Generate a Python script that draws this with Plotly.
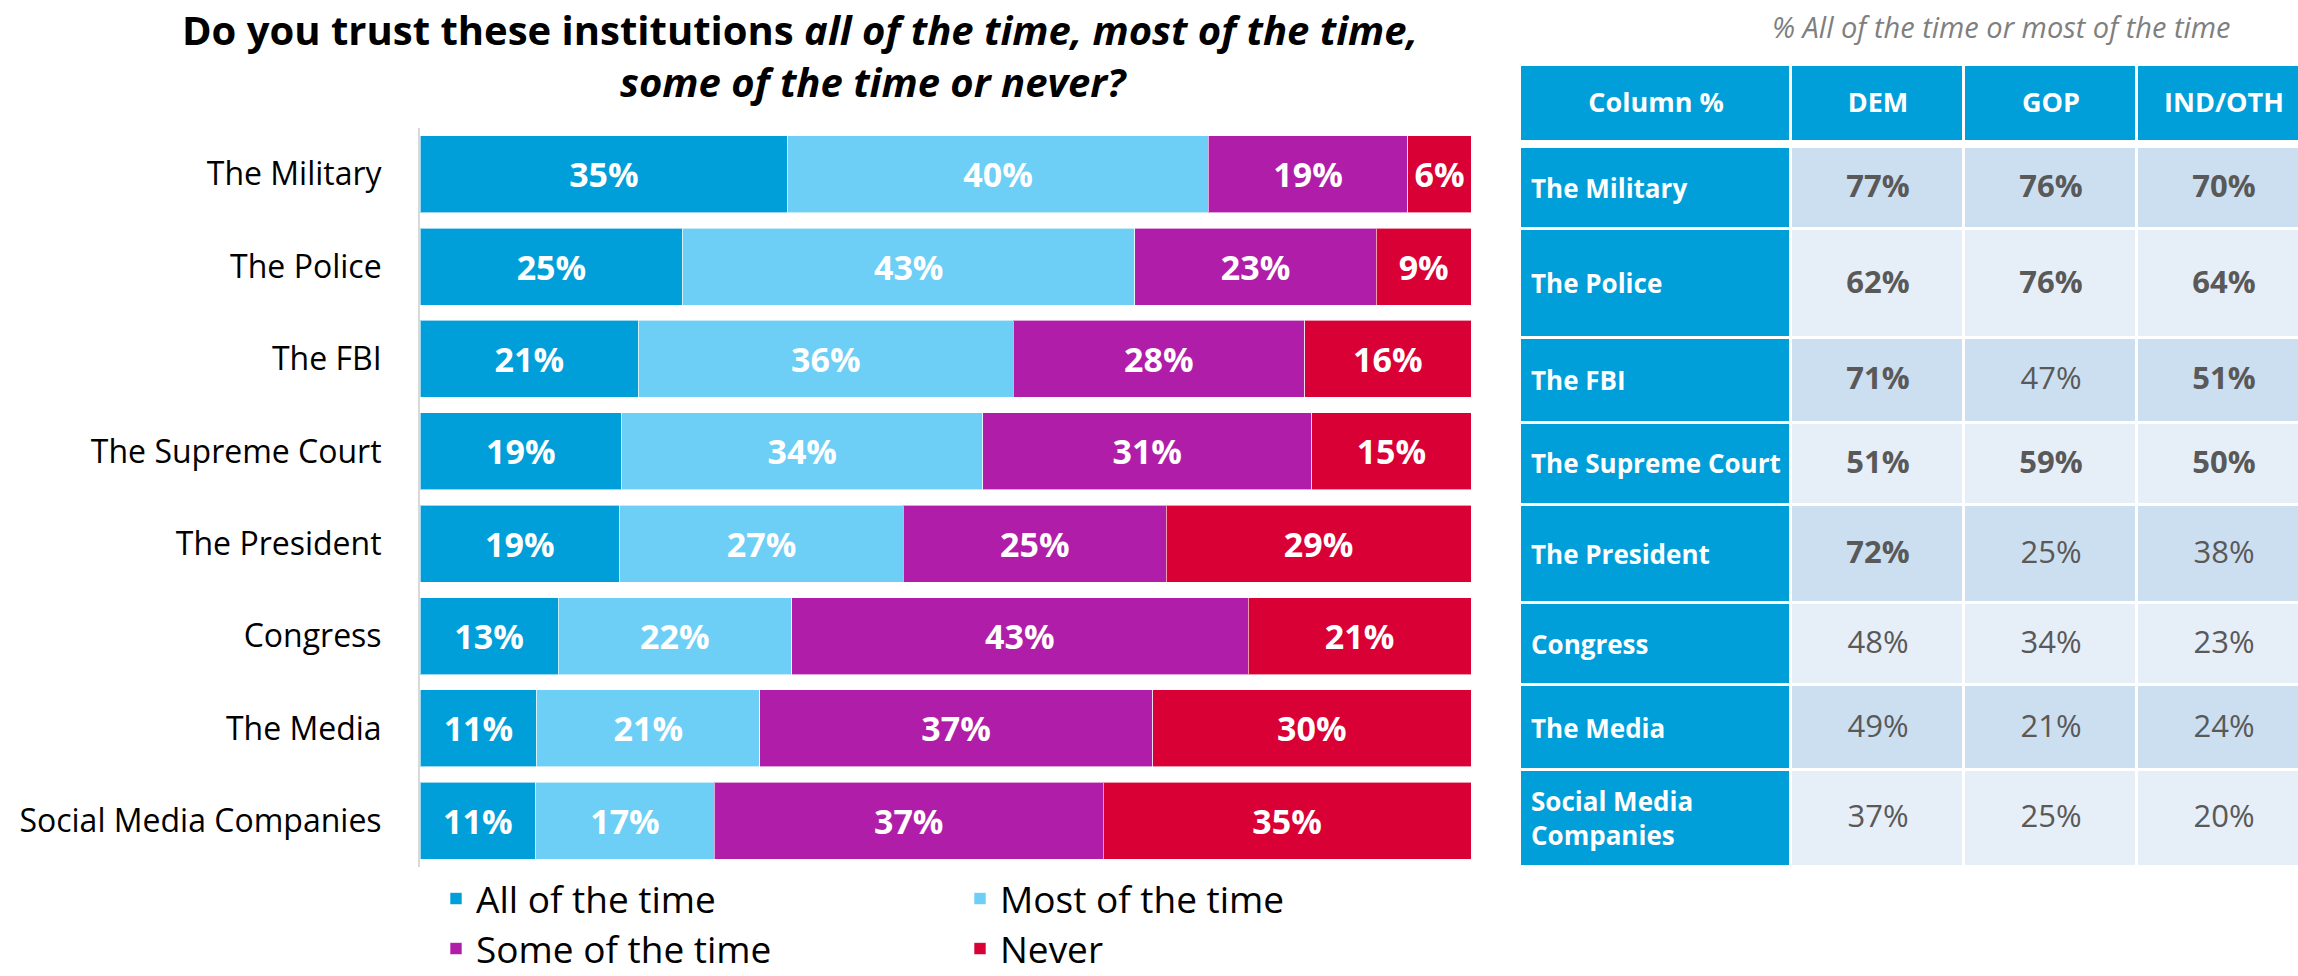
import plotly.graph_objects as go

# ---------------- data ----------------
institutions = ["The Military", "The Police", "The FBI", "The Supreme Court",
                "The President", "Congress", "The Media", "Social Media Companies"]
series_names = ["All of the time", "Most of the time", "Some of the time", "Never"]
all_time = [35, 25, 21, 19, 19, 13, 11, 11]
most_time = [40, 43, 36, 34, 27, 22, 21, 17]
some_time = [19, 23, 28, 31, 25, 43, 37, 37]
never = [6, 9, 16, 15, 29, 21, 30, 35]

table_rows = ["The Military", "The Police", "The FBI", "The Supreme Court",
              "The President", "Congress", "The Media", "Social Media<br>Companies"]
table_header = ["Column %", "DEM", "GOP", "IND/OTH"]
dem = [77, 62, 71, 51, 72, 48, 49, 37]
gop = [76, 76, 47, 59, 25, 34, 21, 25]
ind = [70, 64, 51, 50, 38, 23, 24, 20]
dem_sig = [True, True, True, True, True, False, False, False]
gop_sig = [True, True, False, True, False, False, False, False]
ind_sig = [True, True, True, True, False, False, False, False]

# ---------------- style / layout ----------------
W, H = 2298, 976
FONT = "Open Sans"
colors = ["#009FDA", "#6DCFF6", "#B01EA9", "#D90036"]
BLUE = "#009FDA"
ROW_DARK = "#CCDFF0"
ROW_LIGHT = "#E6EEF8"
GRAY = "#595959"
# table geometry (pixels): column edges and row edges (header, spacer, 8 rows)
TABLE_COL_EDGES = [1520, 1791, 1964, 2137, 2310]
TABLE_ROW_EDGES = [65, 141.5, 146.5, 229, 338, 422.5, 504.5, 603, 685, 770, 866.5]


def px_x(p):
    return p / W


def px_y(p):
    return 1 - p / H


fig = go.Figure()

for i, (name, vals) in enumerate(zip(series_names, [all_time, most_time, some_time, never])):
    fig.add_trace(go.Bar(
        y=institutions, x=vals, name=name, orientation="h",
        marker=dict(color=colors[i], line=dict(color="rgba(255,255,255,0.6)", width=1)),
        text=vals, texttemplate="%{text}%", textposition="inside",
        insidetextanchor="middle", constraintext="none",
        textfont=dict(family=FONT, size=34, color="white", weight="bold"),
        hoverinfo="skip",
        legend="legend" if i < 2 else "legend2",
    ))

# ---------------- table as a heatmap grid ----------------
n = len(table_rows)


def cell(v, s):
    inner = f"<b>{v}%</b>" if s else f"{v}%"
    return f"<span style='color:{GRAY};font-size:31px'>{inner}</span>"


z = [[0, 0, 0, 0], [None, None, None, None]]
txt = [[f"<b>{h}</b>" for h in table_header], ["", "", "", ""]]
for k in range(n):
    shade = 1 if k % 2 == 0 else 2
    z.append([0, shade, shade, shade])
    txt.append(["", cell(dem[k], dem_sig[k]), cell(gop[k], gop_sig[k]), cell(ind[k], ind_sig[k])])

fig.add_trace(go.Heatmap(
    x=TABLE_COL_EDGES, y=TABLE_ROW_EDGES, z=z, text=txt, texttemplate="%{text}",
    textfont=dict(family=FONT, size=27, color="white"),
    colorscale=[[0, BLUE], [1 / 3, BLUE], [1 / 3, ROW_DARK], [2 / 3, ROW_DARK], [2 / 3, ROW_LIGHT], [1, ROW_LIGHT]],
    zmin=-0.5, zmax=2.5, showscale=False, xgap=3, ygap=3,
    hoverinfo="skip", xaxis="x2", yaxis="y2",
))

title_text = ("<b>Do you trust these institutions <i>all of the time, most of the time,</i></b><br>"
              + "&nbsp;" * 14 + "<b><i>some of the time or never?</i></b>")
annotations = [
    dict(text=title_text, x=px_x(800), y=1, xref="paper", yref="paper", xanchor="center", yanchor="top",
         align="center", showarrow=False, font=dict(family=FONT, size=40, color="black")),
    dict(text="<i>% All of the time or most of the time</i>",
         x=px_x(2001), y=px_y(27), xref="paper", yref="paper", xanchor="center", yanchor="middle",
         showarrow=False, font=dict(family=FONT, size=29, color="#7F7F7F")),
]
for k, label in enumerate(table_rows):
    yc = (TABLE_ROW_EDGES[k + 2] + TABLE_ROW_EDGES[k + 3]) / 2
    annotations.append(dict(
        text=f"<b>{label}</b>", x=TABLE_COL_EDGES[0] + 9, y=yc, xref="x2", yref="y2",
        xanchor="left", yanchor="middle", align="left", showarrow=False,
        font=dict(family=FONT, size=26, color="white")))

fig.update_layout(
    width=W, height=H,
    margin=dict(l=0, r=0, t=0, b=0, autoexpand=False),
    paper_bgcolor="white", plot_bgcolor="white",
    barmode="stack", barnorm="percent", bargap=0.167,
    font=dict(family=FONT, color="black"),
    xaxis=dict(domain=[px_x(420), px_x(1471)], range=[0, 100], visible=False),
    yaxis=dict(domain=[px_y(867), px_y(128)], autorange="reversed",
               showline=True, linecolor="#D9D9D9", linewidth=2,
               showgrid=False, ticks="", ticklabelstandoff=30,
               tickfont=dict(family=FONT, size=32, color="black")),
    xaxis2=dict(domain=[px_x(TABLE_COL_EDGES[0]), 1.0], range=[TABLE_COL_EDGES[0], W],
                visible=False, anchor="y2"),
    yaxis2=dict(domain=[px_y(TABLE_ROW_EDGES[-1]), px_y(TABLE_ROW_EDGES[0])],
                range=[TABLE_ROW_EDGES[-1], TABLE_ROW_EDGES[0]], visible=False, anchor="x2"),
    legend=dict(orientation="h", x=px_x(436), xanchor="left", y=px_y(899), yanchor="middle",
                entrywidth=479, entrywidthmode="pixels",
                font=dict(family=FONT, size=37, color="black"), traceorder="normal"),
    legend2=dict(orientation="h", x=px_x(436), xanchor="left", y=px_y(949), yanchor="middle",
                 entrywidth=479, entrywidthmode="pixels",
                 font=dict(family=FONT, size=37, color="black"), traceorder="normal"),
    annotations=annotations,
)

fig.write_html("out.html", config={"displayModeBar": False},
               post_script="document.body.style.margin='0';document.body.style.overflow='hidden';")
